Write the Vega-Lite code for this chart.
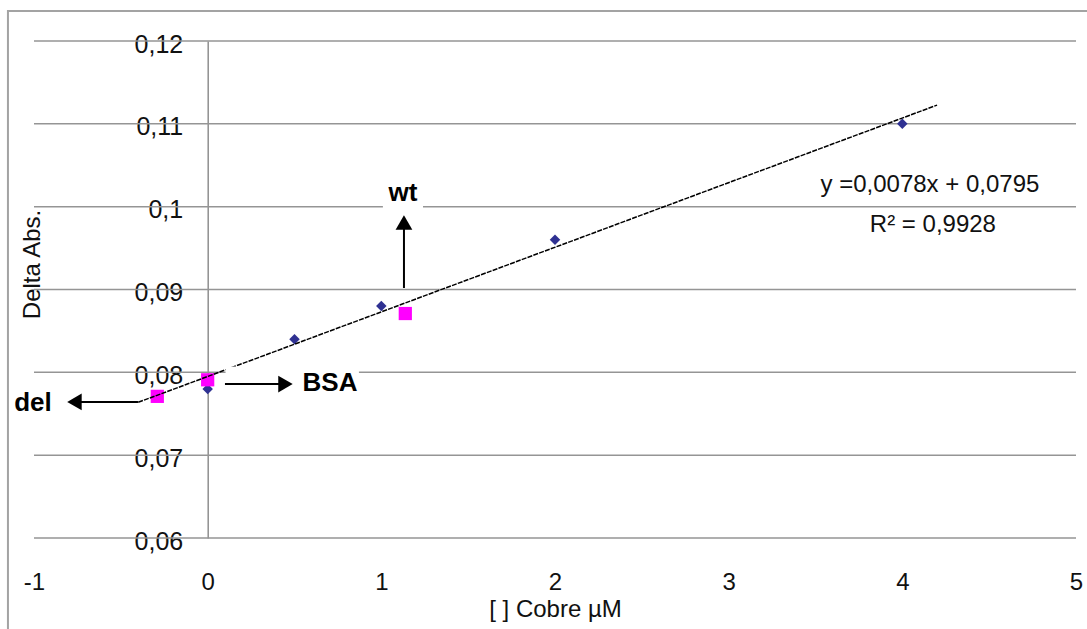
{
  "$schema": "https://vega.github.io/schema/vega-lite/v6.json",
  "width": 1042,
  "height": 497,
  "autosize": {"type": "none"},
  "padding": {"left": 34, "top": 41, "right": 11, "bottom": 91},
  "background": "white",
  "config": {
    "view": {"stroke": null},
    "font": "Liberation Sans",
    "axis": {"labelFont": "Liberation Sans", "titleFont": "Liberation Sans", "labelColor": "#111111", "titleColor": "#111111"}
  },
  "datasets": {
    "borde": [{"x": -1.15, "x2": 7, "y": 0.123622, "y2": 0.04}],
    "grid": [
      {"x": -1, "x2": 5, "y": 0.06},
      {"x": -1, "x2": 5, "y": 0.07},
      {"x": -1, "x2": 5, "y": 0.08},
      {"x": -1, "x2": 5, "y": 0.09},
      {"x": -1, "x2": 5, "y": 0.10},
      {"x": -1, "x2": 5, "y": 0.11},
      {"x": -1, "x2": 5, "y": 0.12}
    ],
    "estandar": [
      {"x": 0, "y": 0.078},
      {"x": 0.5, "y": 0.084},
      {"x": 1, "y": 0.088},
      {"x": 2, "y": 0.096},
      {"x": 4, "y": 0.110}
    ],
    "muestras": [
      {"x": -0.29, "y": 0.0771, "t": "del"},
      {"x": 0, "y": 0.0791, "t": "BSA"},
      {"x": 1.138, "y": 0.0871, "t": "wt"}
    ],
    "tend": [
      {"x": -0.4, "y": 0.07638},
      {"x": 4.2, "y": 0.11226}
    ],
    "cajas": [
      {"x": 1.009, "x2": 1.24, "y": 0.0988, "y2": 0.1017},
      {"x": 0.103, "x2": 0.871, "y": 0.0767, "y2": 0.0807}
    ],
    "flechas": [
      {"x": 1.1303, "y": 0.09018, "x2": 1.1303, "y2": 0.09742},
      {"x": 0.0996, "y": 0.07859, "x2": 0.4394, "y2": 0.07859},
      {"x": -0.4013, "y": 0.07642, "x2": -0.764, "y2": 0.07642}
    ],
    "puntas": [
      {"x": 1.1303, "y": 0.09809, "dir": "up"},
      {"x": 0.448, "y": 0.07859, "dir": "right"},
      {"x": -0.767, "y": 0.07642, "dir": "left"}
    ],
    "etiquetas": [
      {"x": 1.1246, "y": 0.10165, "t": "wt"},
      {"x": 0.7045, "y": 0.07871, "t": "BSA"},
      {"x": -1.006, "y": 0.0763, "t": "del"}
    ],
    "ecuacion": [
      {"x": 4.159, "y": 0.10261, "t": "y =0,0078x + 0,0795"},
      {"x": 4.176, "y": 0.09779, "t": "R² = 0,9928"}
    ]
  },
  "encoding": {
    "x": {
      "field": "x", "type": "quantitative",
      "scale": {"domain": [-1, 5], "nice": false, "zero": false},
      "axis": {
        "values": [-1, 0, 1, 2, 3, 4, 5],
        "labelExpr": "toString(datum.value)",
        "domain": false, "ticks": false, "tickSize": 0, "grid": false,
        "labelFlush": false, "labelOverlap": false, "labelBound": false,
        "labelPadding": 44, "labelBaseline": "middle", "labelFontSize": 24,
        "title": "[ ] Cobre µM", "titleFontSize": 24, "titleFontWeight": "normal",
        "titleY": 71, "titleBaseline": "middle"
      }
    },
    "y": {
      "field": "y", "type": "quantitative",
      "scale": {"domain": [0.06, 0.12], "nice": false, "zero": false},
      "axis": {
        "values": [0.06, 0.07, 0.08, 0.09, 0.1, 0.11, 0.12],
        "labelExpr": "replace(format(datum.value, '.2~f'), '.', ',')",
        "offset": -173.7,
        "domain": true, "domainColor": "#8f8f8f", "domainWidth": 1.5,
        "ticks": false, "tickSize": 0, "grid": false,
        "labelFlush": false, "labelOverlap": false, "labelBound": false,
        "labelPadding": 25, "labelBaseline": "middle", "labelOffset": 3, "labelFontSize": 25,
        "title": "Delta Abs.", "titleFontSize": 24, "titleFontWeight": "normal",
        "titleX": -175, "titleY": 223, "titleAngle": -90, "titleAlign": "center", "titleBaseline": "middle"
      }
    }
  },
  "layer": [
    {
      "data": {"name": "borde"},
      "mark": {"type": "rect", "fill": null, "fillOpacity": 0, "stroke": "#a3a3a3", "strokeWidth": 2, "clip": false},
      "encoding": {"x2": {"field": "x2"}, "y2": {"field": "y2"}}
    },
    {
      "data": {"name": "grid"},
      "mark": {"type": "rule", "color": "#959595", "strokeWidth": 1.5},
      "encoding": {"x2": {"field": "x2"}}
    },
    {
      "data": {"name": "estandar"},
      "mark": {"type": "point", "shape": "diamond", "filled": true, "color": "#2f3192", "size": 110, "opacity": 1},
      "encoding": {}
    },
    {
      "data": {"name": "muestras"},
      "mark": {"type": "point", "shape": "square", "filled": true, "color": "#ff00ff", "size": 175, "opacity": 1},
      "encoding": {}
    },
    {
      "data": {"name": "tend"},
      "mark": {"type": "line", "color": "#000000", "strokeWidth": 1.5, "strokeDash": [5, 1.2]},
      "encoding": {}
    },
    {
      "data": {"name": "cajas"},
      "mark": {"type": "rect", "fill": "white", "stroke": null},
      "encoding": {"x2": {"field": "x2"}, "y2": {"field": "y2"}}
    },
    {
      "data": {"name": "flechas"},
      "mark": {"type": "rule", "color": "#000000", "strokeWidth": 2},
      "encoding": {"x2": {"field": "x2"}, "y2": {"field": "y2"}}
    },
    {
      "data": {"name": "puntas"},
      "mark": {"type": "point", "filled": true, "color": "#000000", "size": 280, "opacity": 1},
      "encoding": {
        "shape": {
          "field": "dir", "type": "nominal",
          "scale": {"domain": ["up", "right", "left"], "range": ["triangle-up", "triangle-right", "triangle-left"]},
          "legend": null
        }
      }
    },
    {
      "data": {"name": "etiquetas"},
      "mark": {"type": "text", "font": "Liberation Sans", "fontWeight": "bold", "fontSize": 26, "color": "#000000", "align": "center", "baseline": "middle"},
      "encoding": {"text": {"field": "t"}}
    },
    {
      "data": {"name": "ecuacion"},
      "mark": {"type": "text", "font": "Liberation Sans", "fontSize": 24, "color": "#111111", "align": "center", "baseline": "middle"},
      "encoding": {"text": {"field": "t"}}
    }
  ]
}
